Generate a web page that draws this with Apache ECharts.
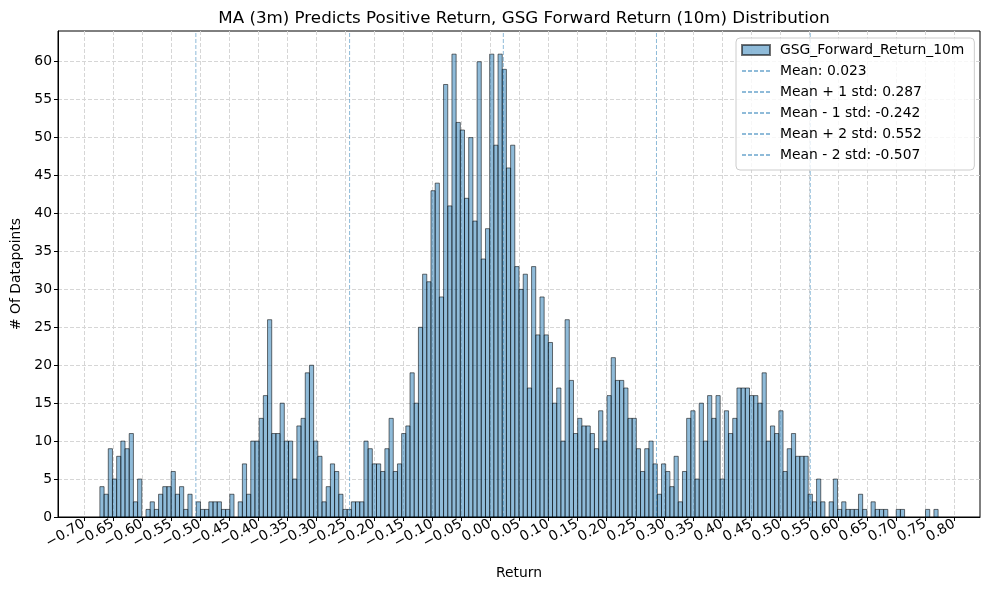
<!DOCTYPE html>
<html>
<head>
<meta charset="utf-8">
<script src="https://cdn.jsdelivr.net/npm/echarts@6/dist/echarts.min.js"></script>
<style>
    html, body { margin: 0; padding: 0; background: #fff; }
    #chart { width: 989px; height: 590px; }
</style>
</head>
<body>
<div id="chart"></div>
<script>
// histogram bins (200 bins between the min and max return)
const binStart = -0.6724
const binWidth = 0.007224
const counts = [
    4, 3, 9, 5, 8, 10, 9, 11, 2, 5,
    0, 1, 2, 1, 3, 4, 4, 6, 3, 4,
    1, 3, 0, 2, 1, 1, 2, 2, 2, 1,
    1, 3, 0, 2, 7, 3, 10, 10, 13, 16,
    26, 11, 11, 15, 10, 10, 5, 12, 13, 19,
    20, 10, 8, 2, 4, 7, 6, 3, 1, 1,
    2, 2, 2, 10, 9, 7, 7, 6, 9, 13,
    6, 7, 11, 12, 19, 15, 25, 32, 31, 43,
    44, 29, 57, 41, 61, 52, 51, 42, 50, 39,
    60, 34, 38, 61, 49, 61, 59, 46, 49, 33,
    30, 32, 17, 33, 24, 29, 24, 23, 15, 17,
    10, 26, 18, 11, 13, 12, 12, 11, 9, 14,
    10, 16, 21, 18, 18, 17, 13, 13, 9, 6,
    9, 10, 7, 3, 7, 6, 4, 8, 2, 6,
    13, 14, 5, 15, 10, 16, 13, 16, 5, 14,
    11, 13, 17, 17, 17, 16, 16, 15, 19, 10,
    12, 11, 14, 6, 9, 11, 8, 8, 8, 3,
    2, 5, 2, 0, 2, 5, 1, 2, 1, 1,
    1, 3, 1, 0, 2, 1, 1, 1, 0, 0,
    1, 1, 0, 0, 0, 0, 0, 1, 0, 1
]
const statNames = ['Mean: 0.023', 'Mean + 1 std: 0.287', 'Mean - 1 std: -0.242', 'Mean + 2 std: 0.552', 'Mean - 2 std: -0.507']
const statValues = [0.023, 0.287, -0.242, 0.552, -0.507]
const xTicks = [-0.70, -0.65, -0.60, -0.55, -0.50, -0.45, -0.40, -0.35, -0.30, -0.25, -0.20, -0.15, -0.10, -0.05,
    0.00, 0.05, 0.10, 0.15, 0.20, 0.25, 0.30, 0.35, 0.40, 0.45, 0.50, 0.55, 0.60, 0.65, 0.70, 0.75, 0.80]
const yTicks = [0, 5, 10, 15, 20, 25, 30, 35, 40, 45, 50, 55, 60]
const xMin = -0.7446
const xMax = 0.8446
const yMax = 64.05

const font = 'DejaVu Sans'
const histName = 'GSG_Forward_Return_10m'
const lineColor = 'rgba(31,119,180,0.5)'
const gridLine = { show: true, lineStyle: { color: '#d6d6d6', width: 1, type: [4, 2] } }

const chart = echarts.init(document.getElementById('chart'))

const histSeries = {
    name: histName,
    type: 'custom',
    data: counts.map((c, i) => [binStart + i * binWidth, binStart + (i + 1) * binWidth, c]),
    encode: { x: [0, 1], y: 2 },
    itemStyle: { color: 'rgba(31,119,180,0.5)', borderColor: 'rgba(0,0,0,0.55)', borderWidth: 1 },
    renderItem: (params, api) => {
        if (!api.value(2)) return null
        const topLeft = api.coord([api.value(0), api.value(2)])
        const bottomRight = api.coord([api.value(1), 0])
        return {
            type: 'rect',
            shape: {
                x: topLeft[0],
                y: topLeft[1],
                width: bottomRight[0] - topLeft[0],
                height: bottomRight[1] - topLeft[1]
            },
            style: api.style()
        }
    },
    z: 2
}

const statSeries = statValues.map((v, k) => ({
    name: statNames[k],
    type: 'line',
    data: [[v, 0], [v, yMax]],
    symbol: 'none',
    silent: true,
    lineStyle: { color: lineColor, width: 1, type: [4, 2] },
    itemStyle: { color: lineColor },
    z: 3
}))

const fmt = v => (Math.round(v * 100) / 100).toFixed(2).replace('-', '\u2212')

chart.setOption({
    animation: false,
    title: {
        text: 'MA (3m) Predicts Positive Return, GSG Forward Return (10m) Distribution',
        left: 519,
        top: 5,
        textAlign: 'center',
        textStyle: { fontFamily: font, fontSize: 16.7, fontWeight: 'normal', color: '#000' }
    },
    legend: {
        orient: 'vertical',
        left: 736,
        top: 38,
        padding: [5, 10, 8, 5],
        itemWidth: 28,
        itemHeight: 10,
        itemGap: 7,
        backgroundColor: 'rgba(255,255,255,0.8)',
        borderColor: '#cccccc',
        borderWidth: 1,
        borderRadius: 4,
        textStyle: { fontFamily: font, fontSize: 13.9, color: '#000', padding: [0, 0, 0, 5] },
        data: [
            { name: histName, icon: 'rect' },
            ...statNames.map(n => ({ name: n, itemStyle: { opacity: 0 } }))
        ]
    },
    grid: {
        left: 58,
        right: 9,
        top: 31,
        bottom: 73,
        show: true,
        borderColor: '#000',
        borderWidth: 1
    },
    xAxis: {
        type: 'value',
        min: xMin,
        max: xMax,
        name: 'Return',
        nameLocation: 'middle',
        nameGap: 49,
        nameTextStyle: { fontFamily: font, fontSize: 13.9, color: '#000' },
        axisLine: { show: true, onZero: false, lineStyle: { color: '#000', width: 1 } },
        axisTick: { show: true, customValues: xTicks, length: 4, lineStyle: { color: '#000' } },
        axisLabel: {
            customValues: xTicks,
            rotate: 30,
            margin: 6,
            formatter: fmt,
            fontFamily: font,
            fontSize: 13.9,
            color: '#000'
        },
        splitLine: gridLine
    },
    yAxis: {
        type: 'value',
        min: 0,
        max: yMax,
        name: '# Of Datapoints',
        nameLocation: 'middle',
        nameGap: 34,
        nameTextStyle: { fontFamily: font, fontSize: 13.9, color: '#000' },
        axisLine: { show: true, onZero: false, lineStyle: { color: '#000', width: 1 } },
        axisTick: { show: true, customValues: yTicks, length: 4, lineStyle: { color: '#000' } },
        axisLabel: { customValues: yTicks, margin: 6, fontFamily: font, fontSize: 13.9, color: '#000' },
        splitLine: gridLine
    },
    series: [histSeries, ...statSeries]
})
</script>
</body>
</html>
